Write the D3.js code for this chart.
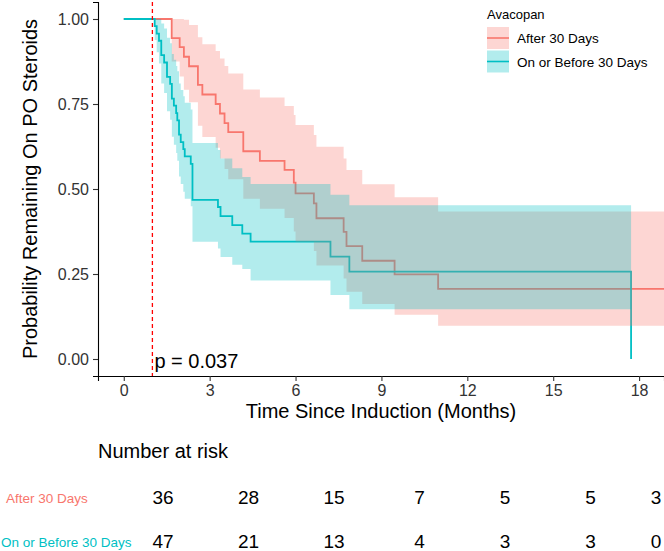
<!DOCTYPE html>
<html><head><meta charset="utf-8">
<script src="https://cdn.jsdelivr.net/npm/d3@7"></script>
<style>body{margin:0;background:#fff} text{font-family:"Liberation Sans",Arial,Helvetica,sans-serif}</style>
</head><body><svg id="c" width="664" height="551"></svg>
<script>
// ---------- data ----------
const groups = ["After 30 Days", "On or Before 30 Days"];
const legendTitle = "Avacopan";

const afterTime  = [0, 1.674, 1.953, 2.10, 2.28, 2.59, 2.745, 3.21, 3.36, 3.52, 3.65, 4.175, 4.754, 5.616, 5.94, 6.00, 6.64, 6.73, 7.68, 7.78, 8.33, 9.46, 10.98, 19.6];
const afterSurv  = [1, .944, .917, .889, .861, .806, .778, .750, .722, .694, .667, .611, .583, .556, .519, .487, .458, .414, .374, .332, .289, .249, .206, .206];
const afterUpper = [1, 1, 1, .998, .982, .946, .926, .906, .884, .862, .840, .793, .769, .744, .718, .688, .659, .624, .590, .556, .514, .476, .434, .434];
const afterLower = [1, .875, .831, .792, .755, .686, .653, .621, .590, .559, .529, .471, .442, .415, .375, .345, .318, .275, .237, .198, .162, .130, .098, .098];

const beforeTime  = [0, 1.08, 1.15, 1.23, 1.31, 1.41, 1.51, 1.62, 1.68, 1.75, 1.83, 1.87, 1.93, 1.99, 2.08, 2.13, 2.34, 2.40, 3.29, 3.38, 3.79, 4.14, 4.43, 7.22, 7.88, 17.72];
const beforeSurv  = [1, .979, .957, .936, .894, .872, .830, .809, .766, .745, .723, .702, .660, .638, .617, .596, .574, .468, .447, .420, .394, .369, .345, .301, .257, 0];
const beforeUpper = [1, 1, 1, 1, .987, .972, .945, .929, .897, .880, .862, .846, .810, .791, .773, .754, .734, .635, .615, .590, .561, .535, .515, .483, .452, .452];
const beforeLower = [1, .938, .902, .869, .810, .782, .729, .704, .654, .630, .606, .583, .537, .515, .492, .471, .449, .345, .325, .300, .277, .265, .231, .188, .146, .146];

const xTicks = [0, 3, 6, 9, 12, 15, 18];
const yTicks = [0, 0.25, 0.5, 0.75, 1];
const riskTimes  = [0, 3, 6, 9, 12, 15, 18];
const riskAfter  = [36, 28, 15, 7, 5, 5, 3];
const riskBefore = [47, 21, 13, 4, 3, 3, 0];
const pLabel = "p = 0.037";
const cutoffMonth = 1;

// ---------- drawing ----------
const W = 664, H = 551;
const colors = ["#F8766D", "#00BFC4"];
const svg = d3.select("#c");

const x = d3.scaleLinear().domain([-0.9, 18.87]).range([98, 664]);
const y = d3.scaleLinear().domain([-0.05, 1.05]).range([376, 2]);
const rx = d3.scaleLinear().domain([0, 18]).range([163, 676]);

svg.append("defs").append("clipPath").attr("id", "panel")
  .append("rect").attr("x", x.range()[0]).attr("y", y.range()[1])
  .attr("width", x.range()[1] - x.range()[0]).attr("height", y.range()[0] - y.range()[1]);

const series = [
  {name: groups[0], color: colors[0], t: afterTime, s: afterSurv, u: afterUpper, l: afterLower},
  {name: groups[1], color: colors[1], t: beforeTime, s: beforeSurv, u: beforeUpper, l: beforeLower}
];
series.forEach(d => {
  d.pts = d.t.map((t, i) => ({t, s: d.s[i], u: d.u[i], l: d.l[i]}));
});

const g = svg.append("g").attr("clip-path", "url(#panel)");
const line = d3.line().x(d => x(d.t)).y(d => y(d.s)).curve(d3.curveStepAfter);
const area = d3.area().x(d => x(d.t)).y0(d => y(d.l)).y1(d => y(d.u)).curve(d3.curveStepAfter);

// survival step lines
series.forEach(d => {
  g.append("path").attr("d", line(d.pts)).attr("fill", "none")
    .attr("stroke", d.color).attr("stroke-width", 1.8);
});
// confidence ribbons on top (alpha)
series.forEach(d => {
  g.append("path").attr("d", area(d.pts)).attr("fill", d.color).attr("fill-opacity", 0.3).attr("stroke", "none");
});

// cutoff dashed line
g.append("line").attr("x1", x(cutoffMonth)).attr("x2", x(cutoffMonth))
  .attr("y1", y.range()[1]).attr("y2", y.range()[0])
  .attr("stroke", "#FF0000").attr("stroke-width", 1.3).attr("stroke-dasharray", "4,3");

// axes
const yAxis = d3.axisLeft(y).tickValues(yTicks).tickFormat(d3.format(".2f")).tickSize(5).tickPadding(4);
const xAxis = d3.axisBottom(x).tickValues(xTicks).tickFormat(d3.format("d")).tickSize(5).tickPadding(4);
const ya = svg.append("g").attr("transform", `translate(${x.range()[0]},0)`).call(yAxis);
const xa = svg.append("g").attr("transform", `translate(0,${y.range()[0]})`).call(xAxis);
[ya, xa].forEach(a => {
  a.select(".domain").attr("stroke", "#000").attr("stroke-width", 1.1);
  a.selectAll(".tick line").attr("stroke", "#333").attr("stroke-width", 1.1);
  a.selectAll(".tick text").attr("fill", "#333").attr("font-size", 16)
    .attr("font-family", '"Liberation Sans",Arial,sans-serif');
});

// axis titles
svg.append("text").attr("transform", `translate(37,${(y.range()[0] + y.range()[1]) / 2}) rotate(-90)`)
  .attr("text-anchor", "middle").attr("font-size", 20).attr("fill", "#000")
  .text("Probability Remaining On PO Steroids");
svg.append("text").attr("x", (x.range()[0] + x.range()[1]) / 2).attr("y", 418)
  .attr("text-anchor", "middle").attr("font-size", 20).attr("fill", "#000")
  .text("Time Since Induction (Months)");

// p-value
svg.append("text").attr("x", x(cutoffMonth) + 2).attr("y", 368)
  .attr("font-size", 20).attr("fill", "#000").text(pLabel);

// legend
const lg = svg.append("g").attr("transform", "translate(487,0)");
lg.append("text").attr("x", 0).attr("y", 19).attr("font-size", 13).attr("fill", "#000").text(legendTitle);
series.forEach((d, i) => {
  const ky = 27 + i * 23.5;
  lg.append("rect").attr("x", 0).attr("y", ky).attr("width", 22).attr("height", 22)
    .attr("fill", d.color).attr("fill-opacity", 0.3);
  lg.append("line").attr("x1", 0).attr("x2", 22).attr("y1", ky + 11).attr("y2", ky + 11)
    .attr("stroke", d.color).attr("stroke-width", 1.6);
  lg.append("text").attr("x", 30).attr("y", ky + 16).attr("font-size", 13.5).attr("fill", "#000").text(d.name);
});

// risk table
svg.append("text").attr("x", 98).attr("y", 458).attr("font-size", 20).attr("fill", "#000").text("Number at risk");
const riskRows = [riskAfter, riskBefore];
riskRows.forEach((row, i) => {
  const ry = 504 + i * 44;
  svg.append("text").attr("x", i === 0 ? 6 : 1).attr("y", ry - 1).attr("font-size", 13.5)
    .attr("fill", colors[i]).text(groups[i]);
  row.forEach((v, j) => {
    svg.append("text").attr("x", Math.min(rx(riskTimes[j]), W - 8)).attr("y", ry)
      .attr("text-anchor", "middle").attr("font-size", 19).attr("fill", "#000").text(v);
  });
});
</script></body></html>
